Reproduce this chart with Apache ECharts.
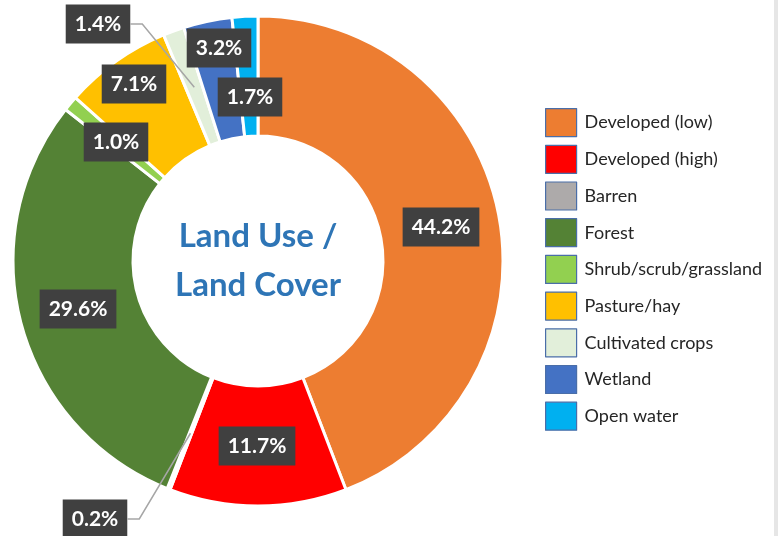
<!DOCTYPE html>
<html>
<head>
<meta charset="utf-8">
<script src="https://cdn.jsdelivr.net/npm/echarts@6/dist/echarts.min.js"></script>
<style>
  html, body { margin: 0; padding: 0; background: #fff; }
  #chart { width: 778px; height: 536px; }
</style>
</head>
<body>
<div id="chart"></div>
<script>
// land use categories, clockwise from the top
const categories = ['Developed (low)', 'Developed (high)', 'Barren', 'Forest',
  'Shrub/scrub/grassland', 'Pasture/hay', 'Cultivated crops', 'Wetland', 'Open water']
const shares = [44.2, 11.7, 0.2, 29.6, 1.0, 7.1, 1.4, 3.2, 1.7]
const colors = ['#ED7D31', '#FF0000', '#ADAAAA', '#548235', '#92D050',
  '#FFC000', '#E2EFDA', '#4472C4', '#00B0F0']
// slices whose label sits outside with a leader line
const outsideLabels = [2, 6]
// where each data label box is centred (Excel "best fit" placement)
const labelCenters = [
  [441, 227], [257, 446], [95, 519], [78, 309], [116, 142],
  [134, 84], [98, 24], [219, 48], [250, 97]
]

const pieCenter = [258, 261]
const innerR = 125
const outerR = 245
const labelFont = 'bold 21px Lato'
const labelPadX = 9

const chart = echarts.init(document.getElementById('chart'))

const total = shares.reduce((a, b) => a + b, 0)
const fmt = v => v.toFixed(1) + '%'

// point in the middle of slice i (mid angle, mid radius), used as leader line anchor
function sliceMid(i) {
  let before = 0
  for (let k = 0; k < i; k++) before += shares[k]
  const ang = (before + shares[i] / 2) / total * Math.PI * 2
  const r = (innerR + outerR) / 2
  return [pieCenter[0] + r * Math.sin(ang), pieCenter[1] - r * Math.cos(ang)]
}

// width of a label box, so the leader line stops at its right edge
const ctx = document.createElement('canvas').getContext('2d')
ctx.font = labelFont
function boxWidth(text) {
  return ctx.measureText(text).width + labelPadX * 2
}

// leader lines: slice middle -> elbow -> right side of the label box
const leaderLines = outsideLabels.map(i => {
  const c = labelCenters[i]
  const right = c[0] + boxWidth(fmt(shares[i])) / 2
  return {
    type: 'polyline',
    z: 10,
    shape: { points: [sliceMid(i), [right + 12, c[1]], [right, c[1]]] },
    style: { stroke: '#a6a6a6', lineWidth: 1.5, fill: null }
  }
})

const pieData = categories.map((name, i) => ({ name: name, value: shares[i] }))

const option = {
  animation: false,
  color: colors,
  legend: {
    orient: 'vertical',
    left: 540,
    top: 103,
    itemWidth: 31,
    itemHeight: 28,
    itemGap: 7.5,
    icon: 'rect',
    itemStyle: { borderColor: '#4a6ea8', borderWidth: 1.2 },
    textStyle: { fontSize: 18, color: '#262626', fontFamily: 'Lato', padding: [0, 0, 0, 3] },
    data: categories
  },
  graphic: [
    {
      type: 'text',
      x: pieCenter[0],
      y: pieCenter[1],
      style: {
        text: 'Land Use /\nLand Cover',
        font: 'bold 33px Lato',
        fill: '#2E75B6',
        align: 'center',
        verticalAlign: 'middle',
        lineHeight: 49
      }
    },
    {
      type: 'rect',
      shape: { x: 774, y: 0, width: 4, height: 536 },
      style: { fill: '#e6e6e6' }
    }
  ].concat(leaderLines),
  series: [
    {
      type: 'pie',
      center: pieCenter,
      radius: [innerR, outerR],
      startAngle: 90,
      clockwise: true,
      avoidLabelOverlap: false,
      itemStyle: { borderColor: '#fff', borderWidth: 3 },
      label: {
        show: true,
        position: 'inside',
        formatter: p => fmt(p.value),
        color: '#fff',
        fontFamily: 'Lato',
        fontWeight: 'bold',
        fontSize: 21,
        lineHeight: 21,
        backgroundColor: '#404040',
        padding: [9, labelPadX]
      },
      labelLine: { show: false },
      labelLayout: function (params) {
        const c = labelCenters[params.dataIndex]
        return { x: c[0], y: c[1], align: 'center', verticalAlign: 'middle' }
      },
      emphasis: { disabled: true },
      data: pieData
    }
  ]
}

chart.setOption(option)
</script>
</body>
</html>
